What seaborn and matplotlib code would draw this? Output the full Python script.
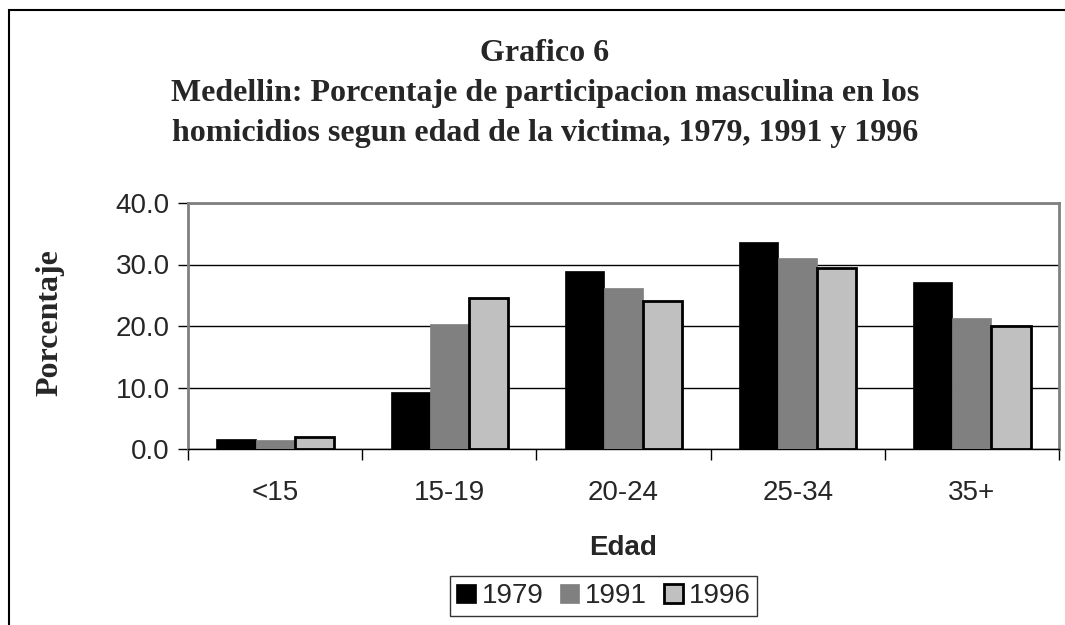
import numpy as np
import pandas as pd
import seaborn as sns
import matplotlib
matplotlib.use("Agg")
import matplotlib.pyplot as plt
from matplotlib.patches import Patch, Rectangle
from matplotlib.ticker import FormatStrFormatter, FixedLocator

# data
edades = ["<15", "15-19", "20-24", "25-34", "35+"]
anios = ["1979", "1991", "1996"]
v1979 = [1.6, 9.3, 28.9, 33.7, 27.2]
v1991 = [1.5, 20.3, 26.2, 31.0, 21.3]
v1996 = [2.0, 24.5, 24.0, 29.4, 20.0]

colores = {"1979": "#000000", "1991": "#808080", "1996": "#C0C0C0"}

df = pd.DataFrame({
    "Edad": edades * 3,
    "Anio": ["1979"] * 5 + ["1991"] * 5 + ["1996"] * 5,
    "Porcentaje": v1979 + v1991 + v1996,
})

sns.set_style("white")
plt.rcParams["font.family"] = ["Liberation Sans", "DejaVu Sans"]

fig = plt.figure(figsize=(10.65, 6.25), dpi=100)
ax = fig.add_axes([188 / 1065, 176 / 625, 871 / 1065, 246 / 625])

sns.barplot(data=df, x="Edad", y="Porcentaje", hue="Anio", order=edades,
            hue_order=anios, palette=colores, width=0.675, gap=0,
            saturation=1, errorbar=None, legend=False, ax=ax, zorder=3)

# edges: only the light series has a visible black outline
for cont, anio in zip(ax.containers, anios):
    for bar in cont:
        if anio == "1996":
            bar.set_edgecolor("black")
            bar.set_linewidth(2)
        else:
            bar.set_edgecolor(colores[anio])
            bar.set_linewidth(0.5)

ax.set_ylim(0, 40)
ax.set_xlim(-0.5, 4.5)
ax.set_yticks([0, 10, 20, 30, 40])
ax.yaxis.set_major_formatter(FormatStrFormatter("%.1f"))
ax.yaxis.grid(True, color="black", linewidth=1, zorder=0)
ax.set_axisbelow(True)

ax.tick_params(axis="y", direction="out", length=7, width=1, color="black",
               labelsize=20, pad=6, left=True)
ax.tick_params(axis="x", which="major", length=0, labelsize=20, pad=22)
ax.xaxis.set_minor_locator(FixedLocator(np.arange(-0.5, 5, 1)))
ax.tick_params(axis="x", which="minor", direction="out", length=8, width=1,
               color="black", bottom=True)

for s in ["top", "right", "left"]:
    ax.spines[s].set_color("#808080")
    ax.spines[s].set_linewidth(2)
ax.spines["bottom"].set_color("black")
ax.spines["bottom"].set_linewidth(1)

ax.set_xlabel("Edad", fontsize=20, fontweight="bold", labelpad=21)
ax.set_ylabel("")
fig.text(50 / 1065, 1 - 323 / 625, "Porcentaje", rotation=90, ha="center",
         va="center", fontsize=23, fontweight="bold", family="Liberation Serif")

# title in three lines (baselines)
titulos = ["Grafico 6",
           "Medellin: Porcentaje de participacion masculina en los",
           "homicidios segun edad de la victima, 1979, 1991 y 1996"]
for t, y in zip(titulos, [61, 101, 141]):
    fig.text(545 / 1065, 1 - y / 625, t, ha="center", va="baseline",
             fontsize=23, fontweight="bold", family="Liberation Serif")

# legend
handles = [Patch(facecolor=colores[a],
                 edgecolor="black" if a == "1996" else colores[a],
                 linewidth=2 if a == "1996" else 0.5, label=a) for a in anios]
leg = fig.legend(handles=handles, loc="center", ncol=3,
                 bbox_to_anchor=(603.5 / 1065, 1 - 596 / 625), fontsize=20,
                 frameon=True, fancybox=False, edgecolor="black",
                 handlelength=0.7, handleheight=0.7, handletextpad=0.2,
                 columnspacing=0.6, borderpad=0.25, borderaxespad=0)
leg.get_frame().set_linewidth(1)

# outer chart frame (cut off on the right and bottom)
fig.patches.append(Rectangle((9 / 1065, -0.1), 1.2, 1 - 10 / 625 + 0.1,
                             transform=fig.transFigure, fill=False,
                             edgecolor="black", linewidth=1.5))

fig.savefig("out.png", dpi=100)
